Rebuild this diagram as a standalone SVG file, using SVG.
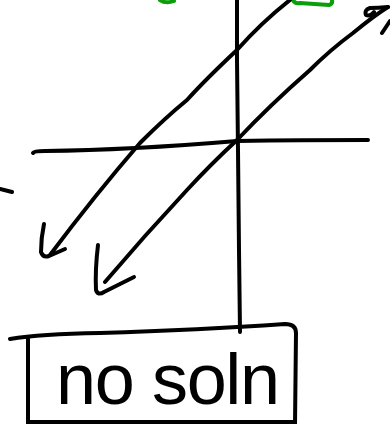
<svg xmlns="http://www.w3.org/2000/svg" width="390" height="424" viewBox="0 0 390 424">
<style>
.ink{fill:none;stroke:#000;stroke-width:4;stroke-linecap:round;stroke-linejoin:round}
.green{fill:none;stroke:#0a9e0a;stroke-width:4;stroke-linecap:round;stroke-linejoin:round}
.lbl{font-family:"Liberation Sans",Arial,sans-serif;font-size:72px;fill:#000}
</style>
<rect width="390" height="424" fill="#fff"/>
<g id="green-marks">
<path class="green" d="M160,0 Q166,4 174,1"/>
<path class="green" d="M293,0 Q295,4 300,3 L329,5 Q333,4 332,0"/>
</g>
<g id="axes">
<path id="y-axis" class="ink" d="M237,0 L237,60 L238,150 L239,250 L240,332"/>
<path id="x-axis" class="ink" d="M33,153 Q34,151 45,151 Q130,150 237,141 Q300,140 368,140"/>
<path id="tick" class="ink" d="M0,189 L12,192"/>
</g>
<g id="connectors">
<path id="line1" class="ink" d="M290,0 Q262,22 237,50 Q205,80 187,100 Q165,118 140,143 Q95,195 50,255"/>
<path id="arrow1" class="ink" d="M44,224 Q41,238 41,252 Q43,258 49,256 L65,249"/>
<path id="line2" class="ink" d="M388,7 Q375,15 353,33 Q330,50 310,70 Q270,105 237,140 Q210,165 187,190 Q145,235 105,282"/>
<path id="arrow2" class="ink" d="M98,245 Q95,270 96,290 Q98,296 104,292 L134,277"/>
<path id="arrow-top" class="ink" d="M388,7 Q378,8 370,8 Q364,10 366,15 Q370,17 374,12 M382,33 L390,21"/>
</g>
<g id="answer-box">
<path class="ink" d="M10,339 Q40,334 100,333 Q200,330 285,324 Q296,324 296,333 L295,424 M28,337 L28,424 M28,422 L295,422"/>
<text class="lbl" x="56" y="404" textLength="224" lengthAdjust="spacing">no soln</text>
</g>
</svg>
